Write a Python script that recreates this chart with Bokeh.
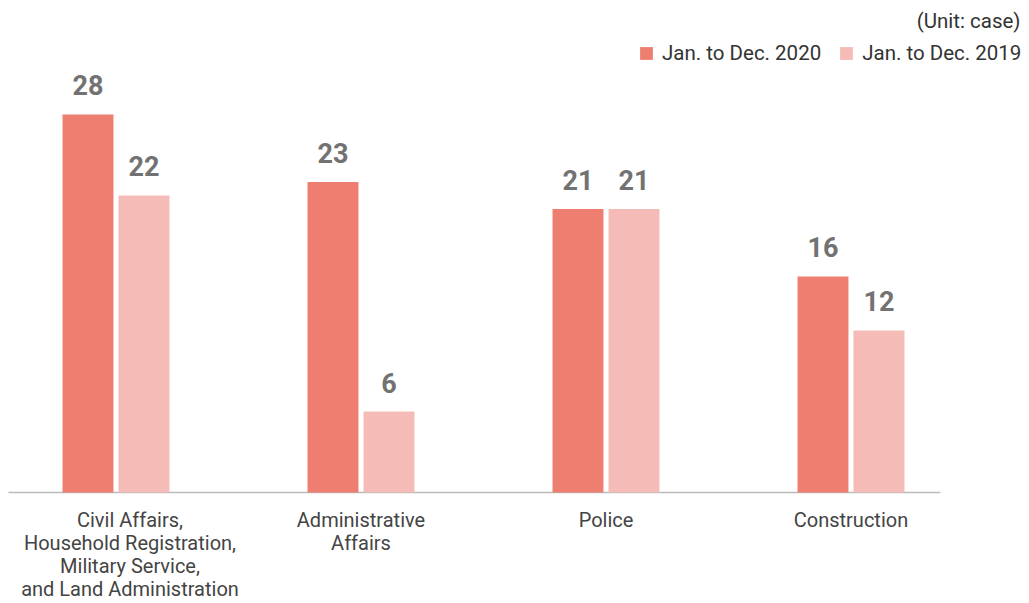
import numpy as np
from bokeh.plotting import figure
from bokeh.models import Range1d, Legend, LegendItem, Label, ColumnDataSource
from bokeh.core.properties import value
from bokeh.embed import file_html
from bokeh.resources import INLINE

categories = [
    "Civil Affairs,\nHousehold Registration,\nMilitary Service,\nand Land Administration",
    "Administrative\nAffairs",
    "Police",
    "Construction",
]
series_names = ["Jan. to Dec. 2020", "Jan. to Dec. 2019"]
values_2020 = [28, 23, 21, 16]
values_2019 = [22, 6, 21, 12]

C2020 = "#EE7F70"
C2019 = "#F5BBB7"
FONT = "Roboto"

idx = np.arange(len(categories))
offset = 0.1143
bar_w = 0.208

x0 = -0.4714
y0 = -8.222
p = figure(width=1029, height=603, output_backend="svg", toolbar_location=None,
           x_range=Range1d(x0, x0 + 1029 / 245), y_range=Range1d(y0, 36.444),
           min_border_left=0, min_border_right=0, min_border_top=0, min_border_bottom=0,
           x_axis_location=None, y_axis_location=None)
p.outline_line_color = None
p.grid.visible = False
p.background_fill_color = None
p.border_fill_color = None

# baseline (category axis line)
p.segment(x0=[-0.4388], y0=[0], x1=[idx[-1] + 0.3653], y1=[0], line_color="#BBBBBB", line_width=1.5)

src20 = ColumnDataSource(dict(x=idx - offset, top=values_2020, lbl=[str(v) for v in values_2020]))
src19 = ColumnDataSource(dict(x=idx + offset, top=values_2019, lbl=[str(v) for v in values_2019]))

r20 = p.vbar(x="x", top="top", width=bar_w, source=src20, fill_color=C2020, line_color=None)
r19 = p.vbar(x="x", top="top", width=bar_w, source=src19, fill_color=C2019, line_color=None)

for s in (src20, src19):
    p.text(x="x", y="top", text="lbl", source=s, text_align="center", text_baseline="bottom",
           y_offset=-19, text_font=value(FONT), text_font_size="27px", text_font_style="bold",
           text_color="#727272")

# first label is nudged right so it stays inside the left edge
label_nudge = [14, 0, 0, 0]
csrc = ColumnDataSource(dict(x=idx, y=np.zeros(len(idx)), t=categories, dx=label_nudge))
p.text(x="x", y="y", text="t", source=csrc, text_align="center", text_baseline="top",
       x_offset="dx", y_offset=15, text_font=value(FONT), text_font_size="20px",
       text_color="#444444", text_line_height=0.96)

legend = Legend(items=[LegendItem(label=series_names[0], renderers=[r20]),
                       LegendItem(label=series_names[1], renderers=[r19])],
                orientation="horizontal", location=(638, 538),
                border_line_color=None, background_fill_alpha=0,
                padding=0, margin=0, spacing=17, label_standoff=8,
                glyph_width=16, glyph_height=16,
                label_text_font=FONT, label_text_font_size="20.5px", label_text_color="#333333")
p.add_layout(legend, "center")

unit = Label(x=1020, y=583, x_units="screen", y_units="screen", text="(Unit: case)",
             text_align="right", text_baseline="middle", text_font=FONT,
             text_font_size="20.5px", text_color="#333333")
p.add_layout(unit)

open("out.html", "w").write(file_html(p, INLINE))
